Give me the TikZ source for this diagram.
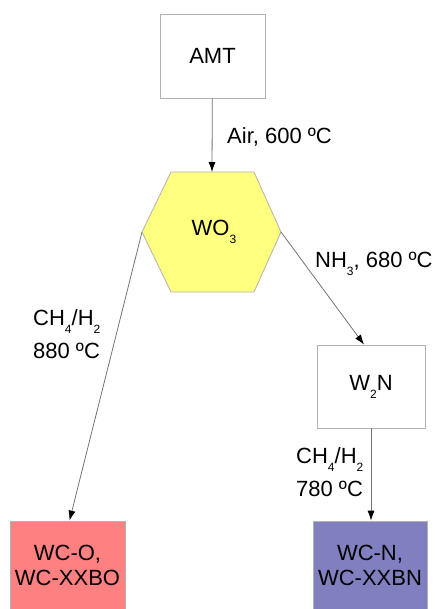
\documentclass[tikz,border=0pt]{standalone}
\usepackage{fontspec}
\setmainfont{Liberation Sans}
\usepackage{tikz}
\usetikzlibrary{arrows.meta}

\definecolor{hexyellow}{HTML}{FFFF80}
\definecolor{boxred}{HTML}{FF8080}
\definecolor{boxblue}{HTML}{8080C0}
\newcommand{\chemsub}[1]{\raisebox{-0.7ex}{\fontsize{12}{12}\selectfont #1}}

\tikzset{
  stepbox/.style={draw=black!30, line width=0.8pt, fill=white, align=center,
    minimum width=105pt, minimum height=84pt, inner sep=0pt},
  flow/.style={->, draw=black!55, line width=0.8pt},
  lbl/.style={anchor=north west, align=left, inner sep=0pt}
}

\begin{document}
\begin{tikzpicture}[x=1pt, y=-1pt, >={Latex[length=10pt,width=7pt,color=black]},
  every node/.style={font=\fontsize{22}{25}\selectfont}]
\useasboundingbox (0,0) rectangle (435,609);

\node [stepbox] (amt) at (212.5,56) {AMT};

% hexagon for the oxide
\coordinate (hextop) at (212,172);
\coordinate (hexleft) at (142,232);
\coordinate (hexright) at (281,232);
\draw [draw=black!30, line width=0.8pt, fill=hexyellow]
  (171,172) -- (254,172) -- (hexright) -- (254,292) -- (171,292) -- (hexleft) -- cycle;
\node (wo3) at (214,232) {WO\chemsub{3}};

\node [stepbox, minimum width=108pt, minimum height=83pt] (wtn) at (371,386.5) {W\chemsub{2}N};
\node [stepbox, fill=boxred, minimum width=115pt, minimum height=88pt]
  (wco) at (67.5,565) {WC-O,\\WC-XXBO};
\node [stepbox, fill=boxblue, minimum width=114pt, minimum height=88pt]
  (wcn) at (370,565) {WC-N,\\WC-XXBN};

\draw [flow] (amt) -- (hextop);
\draw [flow] (hexright) -- ([xshift=-7pt]wtn.north);
\draw [flow] (hexleft) -- ([xshift=2pt]wco.north);
\draw [flow] (wtn) -- (wtn |- wcn.north);

\node [lbl] (air) at (227,127) {Air, 600 ºC};
\node [lbl] (nh3) at (315,252) {NH\chemsub{3}, 680 ºC};
\node [lbl, font=\fontsize{22}{33}\selectfont] (cho) at (33,309) {CH\chemsub{4}/H\chemsub{2}\\880 ºC};
\node [lbl, font=\fontsize{22}{33}\selectfont] (chn) at (296,447) {CH\chemsub{4}/H\chemsub{2}\\780 ºC};
\end{tikzpicture}
\end{document}
